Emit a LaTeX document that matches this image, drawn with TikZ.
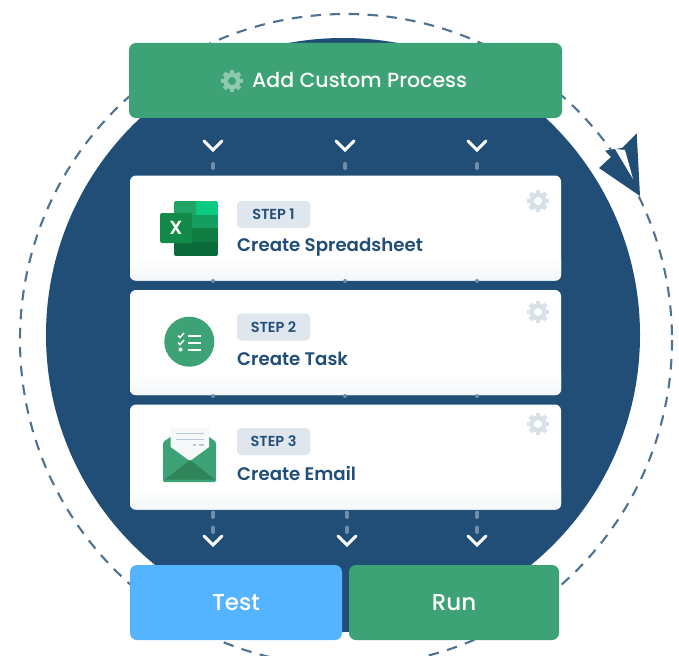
\documentclass[tikz,border=0pt]{standalone}
\usepackage{fontspec}
\setmainfont{Poppins}
\newfontfamily\popmed{Poppins Medium}
\newfontfamily\popsemi{Poppins SemiBold}
\usetikzlibrary{calc}
\definecolor{navy}{HTML}{214E77}
\definecolor{ringc}{HTML}{4F7292}
\definecolor{greenc}{HTML}{3DA275}
\definecolor{greend}{HTML}{2F8459}
\definecolor{bluec}{HTML}{55B4FF}
\definecolor{badgec}{HTML}{DFE6EE}
\definecolor{gearc}{HTML}{D8E1E9}
\definecolor{gearh}{HTML}{8CC9AE}
\definecolor{linkc}{HTML}{6F8DA9}
\definecolor{xa}{HTML}{21A366}
\definecolor{xb}{HTML}{0CCB80}
\definecolor{xe}{HTML}{149E62}
\definecolor{xc}{HTML}{107C41}
\definecolor{xd}{HTML}{0B6A3A}
\definecolor{xf}{HTML}{128A4A}
\tikzset{
  headbox/.style={fill=greenc,rounded corners=7pt,minimum width=433pt,minimum height=75pt,text=white,inner sep=0pt},
  cardbox/.style={fill=white,rounded corners=6pt,minimum width=431pt,minimum height=105pt,inner sep=0pt},
  btn/.style={rounded corners=7pt,minimum height=75pt,text=white,inner sep=0pt,font=\popmed\fontsize{23}{25}\selectfont},
  badge/.style={fill=badgec,rounded corners=4pt,minimum width=73pt,minimum height=27pt,inner sep=0pt,text=navy,font=\popsemi\fontsize{14.5}{16}\selectfont},
  title/.style={anchor=base west,inner sep=0pt,text=navy,font=\popsemi\fontsize{18.2}{20}\selectfont},
  link/.style={draw=linkc,line width=4pt,line cap=round,dash pattern=on 4.5pt off 10.5pt},
  chev/.style={draw=white,line width=3pt,line cap=round,line join=miter},
  pics/cog/.style={code={
    \draw[line width=4.4pt,draw=#1] (0,0) circle (6.2pt);
    \foreach \a in {0,45,...,315}{\draw[line width=4.4pt,draw=#1] (\a:6pt) -- (\a:11pt);}
  }},
  pics/vee/.style={code={\draw[chev] (-9,-5) -- (0,4) -- (9,-5);}},
}
\begin{document}
\begin{tikzpicture}[x=1pt,y=-1pt]
\useasboundingbox (0,0) rectangle (679,655);
\clip (0,0) rectangle (679,655);
\fill[white] (0,0) rectangle (679,655);
% ring and disc
\draw[ringc,line width=2.1pt,dash pattern=on 10.5pt off 8.5pt] (346,340) circle (326);
\fill[navy] (343,335) circle (297);
% arrowhead
\fill[navy] (640,196) -- (636.7,133.3) -- (622,148) -- (615,149) -- (605,150.7) -- (611,157) -- (599,168) -- cycle;
\fill[white] (615,149) -- (625,150) -- (633,179) -- cycle;
% boxes
\node[headbox] (head) at (345.5,80.5) {};
\foreach \c/\yy in {card1/228,card2/342.5,card3/457}{
  \node[cardbox] (\c) at (345.5,\yy) {};
  \begin{scope}
    \clip[rounded corners=6pt] (\c.north west) rectangle (\c.south east);
    \shade[top color=white,bottom color=white!95!navy] (130,\yy+30) rectangle (561,\yy+53);
  \end{scope}
}
\node[btn,fill=bluec,minimum width=212pt] (test) at (236,602.5) {Test};
\node[btn,fill=greenc,minimum width=210pt] (run) at (454,602.5) {Run\hspace{6pt}};
% header
\pic at (232,81) {cog=gearh};
\node[anchor=base west,inner sep=0pt,text=white,font=\popmed\fontsize{20.5}{22}\selectfont] (headtxt) at (252,88) {Add Custom Process};
% connectors
\foreach \n/\x in {1/213,2/345,3/477}{
  \coordinate (ta\n) at (\x,146);
  \coordinate (tb\n) at (\x,164);
  \draw[link] (tb\n) -- (\x,168);
  \pic at (ta\n) {vee};
  \fill[linkc] (\x,281) circle (2pt);
  \fill[linkc] (\x,396) circle (2pt);
}
\foreach \n/\x in {1/213,2/347,3/477}{
  \coordinate (ba\n) at (\x,541);
  \coordinate (bb\n) at (\x,512.5);
  \draw[link] (bb\n) -- (\x,532);
  \pic at (ba\n) {vee};
}
% gears and text
\foreach \y in {201,312,424}{
  \pic at (538,\y) {cog=gearc};
}
\node[badge] (b1) at (273.5,214.5) {STEP 1};
\node[badge] (b2) at (273.5,327) {STEP 2};
\node[badge] (b3) at (273.5,441.5) {STEP 3};
\node[title] (t1) at (237,251) {Create Spreadsheet};
\node[title] (t2) at (237,365) {Create Task};
\node[title] (t3) at (237,480) {Create Email};
% excel icon
\begin{scope}
\clip[rounded corners=2pt] (174,201) rectangle (218,256);
\fill[xa] (174,201) rectangle (196,214.7);
\fill[xb] (196,201) rectangle (218,214.7);
\fill[xe] (174,214.7) rectangle (218,228.4);
\fill[xc] (174,228.4) rectangle (218,242.1);
\fill[xd] (174,242.1) rectangle (218,256);
\end{scope}
\fill[xf,rounded corners=1.5pt] (160,213) rectangle (192,243);
\node[inner sep=0pt,text=white,font=\popsemi\fontsize{19}{20}\selectfont] (xl) at (176,228) {X};
% task icon
\fill[greenc] (189.3,341.7) circle (25);
\foreach \y in {335.5,342.5,349.5}{\draw[white,line width=2pt] (188,\y) -- (201,\y);}
\draw[white,line width=1.5pt] (178,335.5) -- (180,337.5) -- (184,333);
\draw[white,line width=1.5pt] (178,342.5) -- (180,344.5) -- (184,340);
\fill[white] (180.5,349.5) circle (2);
% email icon
\fill[greenc,rounded corners=1.5pt] (163,442) -- (171,436.7) -- (209,436.7) -- (216,442) -- (216,482) -- (163,482) -- cycle;
\fill[white!96!navy] (170.7,428) -- (209,428) -- (209,447) -- (190,461) -- (170.7,447) -- cycle;
\fill[greend] (165,479.5) -- (190,460) -- (215,479.5) -- cycle;
\draw[badgec!80!navy,line width=1.2pt] (176,433.5) -- (204,433.5);
\draw[badgec!80!navy,line width=1.2pt] (176,439.5) -- (204,439.5);
\draw[badgec!80!navy,line width=1.2pt] (193,445) -- (196,445) (199,445) -- (204,445);
\end{tikzpicture}
\end{document}
